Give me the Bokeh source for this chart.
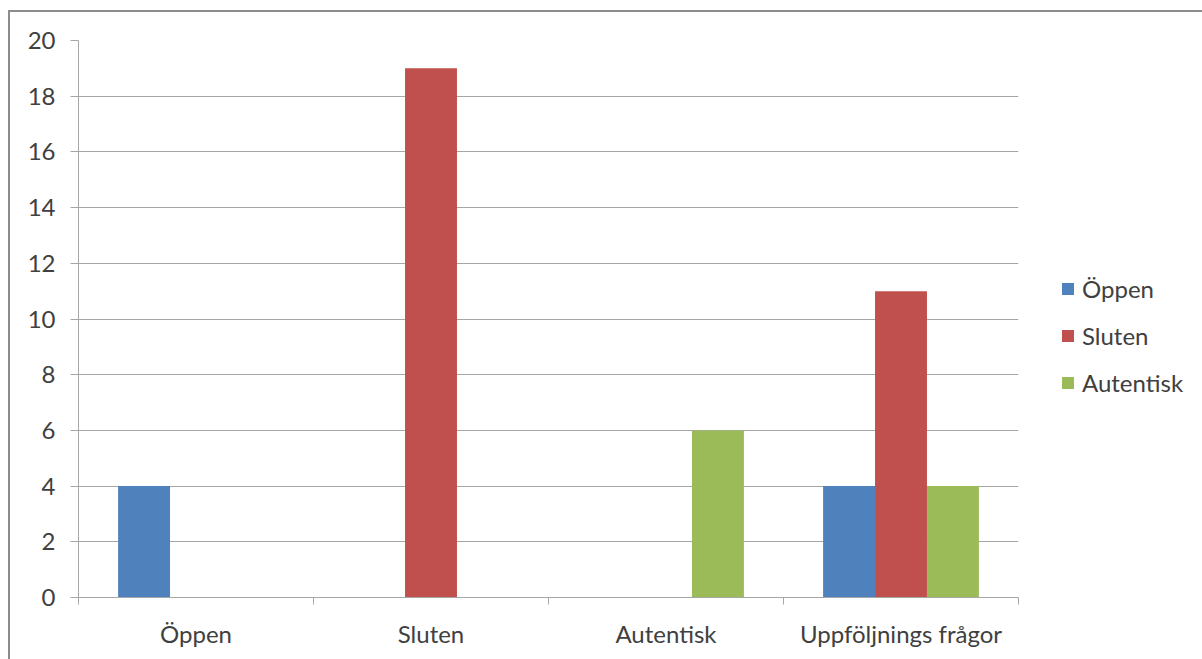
from bokeh.plotting import figure
from bokeh.models import FixedTicker, Legend, LegendItem
from bokeh.embed import file_html
from bokeh.resources import INLINE

categories = ["Öppen", "Sluten", "Autentisk", "Uppföljnings frågor"]
series_names = ["Öppen", "Sluten", "Autentisk"]
oppen = [4, 0, 0, 4]
sluten = [0, 19, 0, 11]
autentisk = [0, 0, 6, 4]
y_ticks = [0, 2, 4, 6, 8, 10, 12, 14, 16, 18, 20]

colors = ["#4F81BD", "#C0504D", "#9BBB59"]
FONT = "Lato"
TXT = "#404040"
GRID = "#A6A6A6"
FS = "24px"

# canvas starts at (10, 12) in the page because of margin + border
p = figure(width=1188, height=647, x_range=(0, 4), y_range=(0, 20),
           output_backend="svg", toolbar_location=None,
           frame_width=940, frame_height=557,
           min_border_left=68, min_border_right=180, min_border_top=28, min_border_bottom=62)
p.styles = {"margin-left": "8px", "margin-top": "10px",
            "border-left": "2px solid #8C8C8C", "border-top": "2px solid #8C8C8C",
            "border-right": "2px solid #8C8C8C"}
p.outline_line_color = None
p.background_fill_color = "white"
p.border_fill_color = "white"

bw = 0.221
offsets = [-bw, 0, bw]
renderers = []
for vals, off, col in zip([oppen, sluten, autentisk], offsets, colors):
    xs = [i + 0.5 + off for i in range(len(categories))]
    r = p.vbar(x=xs, top=vals, width=bw, bottom=0, fill_color=col, line_color=None)
    renderers.append(r)

# x axis
p.xaxis.ticker = FixedTicker(ticks=[i + 0.5 for i in range(len(categories))],
                             minor_ticks=list(range(len(categories) + 1)))
p.xaxis.major_label_overrides = {i + 0.5: c for i, c in enumerate(categories)}
p.xaxis.major_tick_out = 0
p.xaxis.major_tick_in = 0
p.xaxis.minor_tick_out = 7
p.xaxis.minor_tick_in = 0
p.xaxis.minor_tick_line_color = GRID
p.xaxis.axis_line_color = GRID
p.xaxis.major_label_standoff = 14
p.xgrid.visible = False

# y axis
p.yaxis.ticker = FixedTicker(ticks=y_ticks, minor_ticks=[])
p.yaxis.major_tick_out = 8
p.yaxis.major_tick_in = 0
p.yaxis.major_tick_line_color = GRID
p.yaxis.axis_line_color = GRID
p.yaxis.major_label_standoff = 15
p.ygrid.grid_line_color = GRID
p.ygrid.grid_line_width = 1

for ax in (p.xaxis, p.yaxis):
    ax.major_label_text_font = FONT
    ax.major_label_text_font_size = FS
    ax.major_label_text_color = TXT

legend = Legend(items=[LegendItem(label=n, renderers=[r]) for n, r in zip(series_names, renderers)],
                location=(42, 200))
legend.glyph_width = 15
legend.glyph_height = 15
legend.label_text_font = FONT
legend.label_text_font_size = FS
legend.label_text_color = TXT
legend.label_standoff = 7
legend.spacing = 18
legend.padding = 0
legend.margin = 0
legend.border_line_color = None
legend.background_fill_alpha = 0
p.add_layout(legend, "right")

open("out.html", "w").write(file_html(p, INLINE))
